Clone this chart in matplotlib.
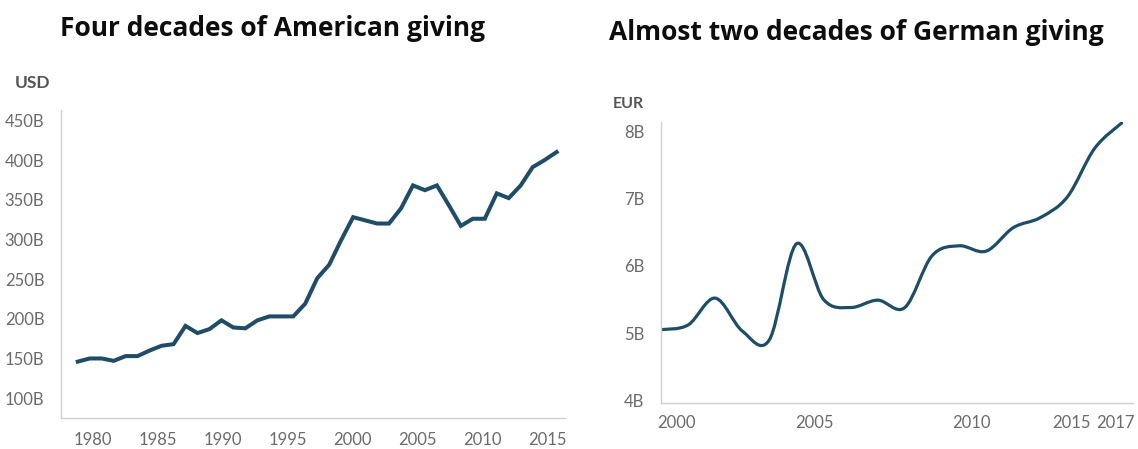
import numpy as np
import matplotlib
matplotlib.use('Agg')
import matplotlib.pyplot as plt
from matplotlib.path import Path
from matplotlib.patches import PathPatch

# American giving, billions USD, 1977-2017
us_years = list(range(1977, 2018))
us_values = [146, 150, 150, 147, 153, 153, 160, 166, 168, 191,
             182, 187, 198, 189, 188, 198, 203, 203, 203, 219,
             251, 268, 299, 328, 324, 320, 320, 339, 368, 362,
             368, 343, 317, 326, 326, 358, 352, 368, 391, 400,
             410]
us_ticks = [1980, 1985, 1990, 1995, 2000, 2005, 2010, 2015]
us_yticks = [100, 150, 200, 250, 300, 350, 400, 450]

# German giving, billions EUR, 2000-2017
de_years = list(range(2000, 2018))
de_values = [5.05, 5.12, 5.52, 5.03, 4.90, 6.33, 5.50, 5.38, 5.49,
             5.38, 6.15, 6.30, 6.22, 6.57, 6.72, 7.03, 7.75, 8.13]
de_ticks = [2000, 2005, 2010, 2015, 2017]
de_yticks = [4, 5, 6, 7, 8]

LINE = '#1f4d68'
GREY = '#6b6b6b'
SPINE = '#d0d0d0'


def smooth_path(x, y):
    # catmull-rom through the points, as cubic bezier segments
    px = np.concatenate([[x[0]], x, [x[-1]]]).astype(float)
    py = np.concatenate([[y[0]], y, [y[-1]]]).astype(float)
    verts = [(px[1], py[1])]
    codes = [Path.MOVETO]
    for j in range(1, len(x)):
        c1 = (px[j] + (px[j + 1] - px[j - 1]) / 6, py[j] + (py[j + 1] - py[j - 1]) / 6)
        c2 = (px[j + 1] - (px[j + 2] - px[j]) / 6, py[j + 1] - (py[j + 2] - py[j]) / 6)
        verts += [c1, c2, (px[j + 1], py[j + 1])]
        codes += [Path.CURVE4] * 3
    return Path(verts, codes)


def style(ax):
    for s in ['top', 'right']:
        ax.spines[s].set_visible(False)
    for s in ['left', 'bottom']:
        ax.spines[s].set_color(SPINE)
        ax.spines[s].set_linewidth(1.0)
    ax.tick_params(length=0, labelsize=12, labelcolor=GREY)
    for lab in ax.get_xticklabels() + ax.get_yticklabels():
        lab.set_family('Lato')


fig = plt.figure(figsize=(11.38, 4.49), dpi=100)

# --- American chart
ax1 = fig.add_axes([61 / 1138, 31 / 449, 504 / 1138, 308 / 449])
ax1.plot(us_years, us_values, color=LINE, lw=2.9, solid_joinstyle='miter')
ax1.set_xlim(1975.6, 2017.7)
ax1.set_ylim(75, 463)
ax1.set_yticks(us_yticks, [f'{v}B' for v in us_yticks])
# label positions follow the original graphic's spacing
ax1.set_xticks(np.linspace(1978.25, 2016.2, len(us_ticks)), [str(t) for t in us_ticks])
ax1.tick_params(axis='y', pad=12)
ax1.tick_params(axis='x', pad=10)
style(ax1)

# --- German chart
ax2 = fig.add_axes([661 / 1138, 46 / 449, 472 / 1138, 281 / 449])
ax2.add_patch(PathPatch(smooth_path(de_years, de_values), fill=False,
                        edgecolor=LINE, lw=2.3, capstyle='round'))
ax2.set_xlim(2000, 2017.42)
ax2.set_ylim(3.957, 8.145)
ax2.set_yticks(de_yticks, [f'{v}B' for v in de_yticks])
ax2.set_xticks([2000.58, 2005.68, 2011.44, 2015.13, 2016.78], [str(t) for t in de_ticks])
ax2.tick_params(axis='y', pad=12)
ax2.tick_params(axis='x', pad=9)
style(ax2)

# titles and units
fig.text(272.5 / 1138, 1 - 36 / 449, 'Four decades of American giving',
         ha='center', va='baseline', fontsize=19, fontweight='bold',
         family='Open Sans', color='#0d0d0d')
fig.text(856 / 1138, 1 - 40 / 449, 'Almost two decades of German giving',
         ha='center', va='baseline', fontsize=19, fontweight='bold',
         family='Open Sans', color='#0d0d0d')
fig.text(33 / 1138, 1 - 83 / 449, 'USD', ha='center', va='center',
         fontsize=12.5, fontweight='bold', family='Lato', color='#555555')
fig.text(628 / 1138, 1 - 104 / 449, 'EUR', ha='center', va='center',
         fontsize=11.5, fontweight='bold', family='Lato', color='#555555')

fig.savefig('out.png', dpi=100)
